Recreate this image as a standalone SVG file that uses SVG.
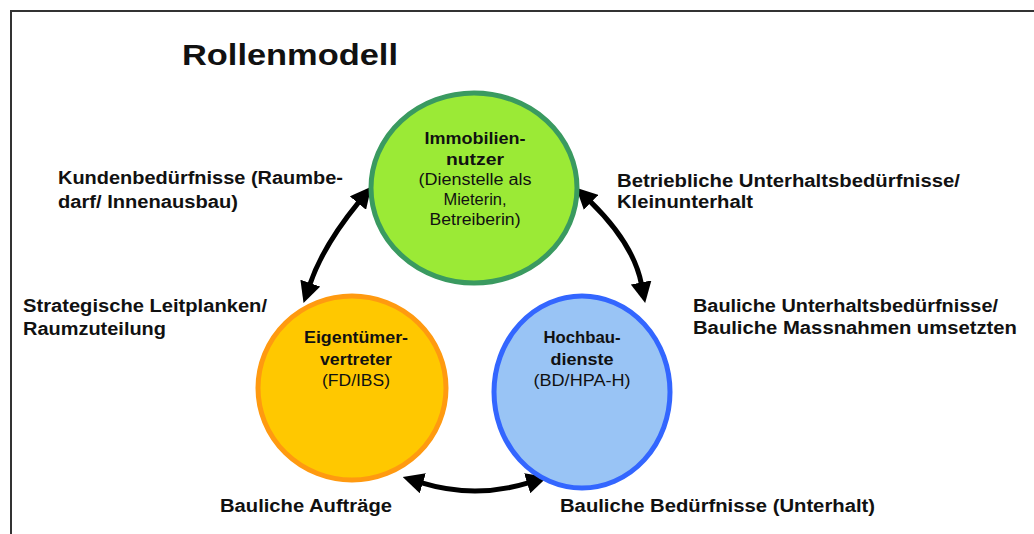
<svg xmlns="http://www.w3.org/2000/svg" width="1034" height="534" viewBox="0 0 1034 534">
<style>
text{font-family:"Liberation Sans",Arial,sans-serif;fill:#111}
.lbl{font-size:18px;font-weight:bold}
.nb{font-size:16px;font-weight:bold;text-anchor:middle}
.nn{font-size:16px;text-anchor:middle}
.arr{fill:none;stroke:#000;stroke-width:5}
</style>
<defs>
<marker id="ah" viewBox="0 0 20 20" refX="1" refY="10" markerWidth="21" markerHeight="21" markerUnits="userSpaceOnUse" orient="auto-start-reverse">
<path d="M0,0 L20,10 L0,20 z" fill="#000"/>
</marker>
</defs>
<rect width="1034" height="534" fill="#fff"/>
<path d="M11,534 L11,11 L1034,11" fill="none" stroke="#333" stroke-width="2"/>
<text x="182" y="65" font-size="30" font-weight="bold" textLength="216" lengthAdjust="spacingAndGlyphs">Rollenmodell</text>

<g id="connectors">
<path class="arr" d="M358.6,202.3 Q323.2,245.5 310,284.1" marker-start="url(#ah)" marker-end="url(#ah)"/>
<path class="arr" d="M590.4,201.6 Q633.4,243.6 641.3,283.5" marker-start="url(#ah)" marker-end="url(#ah)"/>
<path class="arr" d="M421.8,482.9 Q475,499.1 528.2,482.9" marker-start="url(#ah)" marker-end="url(#ah)"/>
</g>

<g id="node-immobiliennutzer">
<ellipse cx="474" cy="188" rx="103" ry="95" fill="#9bea36" stroke="#3a9a60" stroke-width="5"/>
<text class="nb" x="475" y="144" textLength="101" lengthAdjust="spacingAndGlyphs">Immobilien-</text>
<text class="nb" x="475" y="165" textLength="58" lengthAdjust="spacingAndGlyphs">nutzer</text>
<text class="nn" x="475" y="185" textLength="113" lengthAdjust="spacingAndGlyphs">(Dienstelle als</text>
<text class="nn" x="475" y="205" textLength="63" lengthAdjust="spacingAndGlyphs">Mieterin,</text>
<text class="nn" x="475" y="225" textLength="91" lengthAdjust="spacingAndGlyphs">Betreiberin)</text>
</g>

<g id="node-eigentuemervertreter">
<ellipse cx="352" cy="388" rx="94" ry="92" fill="#ffc800" stroke="#ff9a10" stroke-width="5"/>
<text class="nb" x="356" y="343" textLength="104" lengthAdjust="spacingAndGlyphs">Eigentümer-</text>
<text class="nb" x="356" y="365" textLength="72" lengthAdjust="spacingAndGlyphs">vertreter</text>
<text class="nn" x="356" y="386" textLength="68" lengthAdjust="spacingAndGlyphs">(FD/IBS)</text>
</g>

<g id="node-hochbaudienste">
<ellipse cx="582" cy="392" rx="88" ry="96" fill="#99c4f5" stroke="#3366ff" stroke-width="5"/>
<text class="nb" x="582" y="343" textLength="77" lengthAdjust="spacingAndGlyphs">Hochbau-</text>
<text class="nb" x="582" y="365" textLength="63" lengthAdjust="spacingAndGlyphs">dienste</text>
<text class="nn" x="582" y="386" textLength="97" lengthAdjust="spacingAndGlyphs">(BD/HPA-H)</text>
</g>

<g id="labels">
<text class="lbl" x="58" y="184" textLength="285" lengthAdjust="spacingAndGlyphs">Kundenbedürfnisse (Raumbe-</text>
<text class="lbl" x="58" y="208" textLength="180" lengthAdjust="spacingAndGlyphs">darf/ Innenausbau)</text>
<text class="lbl" x="23" y="312" textLength="244" lengthAdjust="spacingAndGlyphs">Strategische Leitplanken/</text>
<text class="lbl" x="23" y="335" textLength="143" lengthAdjust="spacingAndGlyphs">Raumzuteilung</text>
<text class="lbl" x="617" y="187" textLength="343" lengthAdjust="spacingAndGlyphs">Betriebliche Unterhaltsbedürfnisse/</text>
<text class="lbl" x="617" y="208" textLength="136" lengthAdjust="spacingAndGlyphs">Kleinunterhalt</text>
<text class="lbl" x="693" y="312" textLength="305" lengthAdjust="spacingAndGlyphs">Bauliche Unterhaltsbedürfnisse/</text>
<text class="lbl" x="693" y="334" textLength="324" lengthAdjust="spacingAndGlyphs">Bauliche Massnahmen umsetzten</text>
<text class="lbl" x="220" y="512" textLength="172" lengthAdjust="spacingAndGlyphs">Bauliche Aufträge</text>
<text class="lbl" x="560" y="512" textLength="315" lengthAdjust="spacingAndGlyphs">Bauliche Bedürfnisse (Unterhalt)</text>
</g>
</svg>
